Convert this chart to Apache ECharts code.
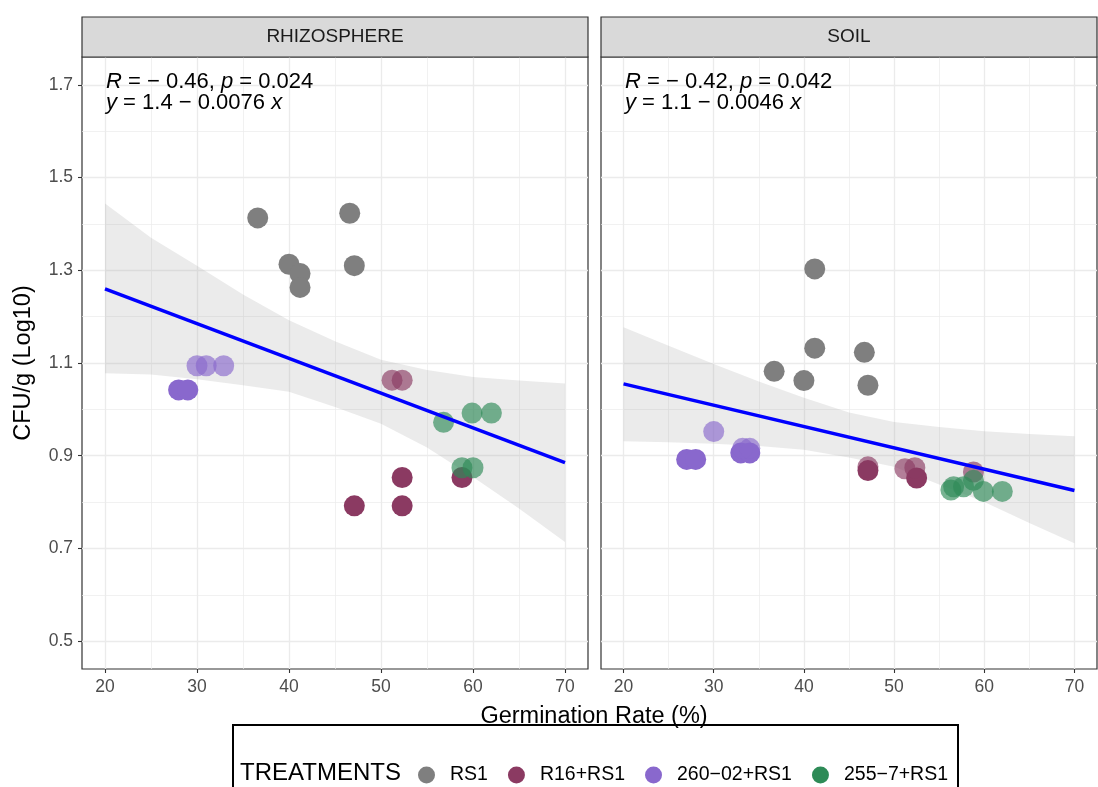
<!DOCTYPE html>
<html><head><meta charset="utf-8">
<script src="https://cdn.jsdelivr.net/npm/echarts@6/dist/echarts.min.js"></script>
<style>html,body{margin:0;padding:0;background:#fff}#c{width:1098px;height:787px}</style>
</head><body><div id="c"></div>
<script>
// ---- data ----
const treatments = ['RS1', 'R16+RS1', '260\u221202+RS1', '255\u22127+RS1'];
const panels = ['RHIZOSPHERE', 'SOIL'];
const xTicks = [20, 30, 40, 50, 60, 70];
const xMinor = [25, 35, 45, 55, 65];
const yTicks = [0.5, 0.7, 0.9, 1.1, 1.3, 1.5, 1.7];
const yMinor = [0.6, 0.8, 1.0, 1.2, 1.4, 1.6];

// RHIZOSPHERE  [germination %, CFU/g log10]
const rhizoRS1 = [[36.6,1.413],[46.6,1.423],[40.0,1.313],[41.2,1.293],[41.2,1.263],[47.1,1.310]];
const rhizoR16 = [[52.3,0.853],[47.1,0.792],[52.3,0.792],[58.8,0.853]];
const rhizoR16Faint = [[51.2,1.063],[52.3,1.063]];
const rhizo260 = [[28.0,1.042],[29.0,1.042]];
const rhizo260Faint = [[30.0,1.094],[31.0,1.094],[32.9,1.094]];
const rhizo255 = [];
const rhizo255Faint = [[56.8,0.972],[59.9,0.992],[62.0,0.992],[58.8,0.874],[60.0,0.874]];

// SOIL
const soilRS1 = [[41.2,1.303],[41.2,1.132],[36.7,1.082],[40.0,1.062],[46.7,1.123],[47.1,1.052]];
const soilR16 = [[47.1,0.868],[52.5,0.852]];
const soilR16Faint = [[47.1,0.876],[51.2,0.872],[52.3,0.874],[58.8,0.865]];
const soil260 = [[27.0,0.892],[28.0,0.892],[33.0,0.906],[34.0,0.906]];
const soil260Faint = [[30.0,0.952],[33.2,0.916],[34.0,0.916]];
const soil255 = [];
const soil255Faint = [[56.3,0.826],[56.6,0.833],[57.7,0.833],[58.8,0.847],[59.9,0.823],[62.0,0.823]];

// linear fits (endpoints) and confidence bands
const fitX = [20, 70];
const rhizoFit = [1.260, 0.885];
const soilFit = [1.055, 0.825];
const bandX = [20, 25, 30, 35, 40, 45, 50, 55, 60, 65, 70];
const rhizoLower = [1.078, 1.075, 1.065, 1.052, 1.038, 1.005, 0.969, 0.918, 0.854, 0.786, 0.714];
const rhizoUpper = [1.444, 1.370, 1.310, 1.248, 1.192, 1.147, 1.107, 1.085, 1.070, 1.062, 1.056];
const soilLower = [0.931, 0.929, 0.926, 0.921, 0.913, 0.896, 0.876, 0.838, 0.800, 0.755, 0.711];
const soilUpper = [1.177, 1.137, 1.098, 1.060, 1.025, 0.993, 0.973, 0.962, 0.953, 0.947, 0.942];

const statText = [
  ['{i|R} = \u2212 0.46, {i|p} = 0.024', '{i|y} = 1.4 \u2212 0.0076 {i|x}'],
  ['{i|R} = \u2212 0.42, {i|p} = 0.042', '{i|y} = 1.1 \u2212 0.0046 {i|x}']
];

// ---- styling / layout ----
const colors = ['#7F7F7F', '#8B3A62', '#8968CD', '#2E8B57'];
const FONT = 'Liberation Sans, Arial, Helvetica, sans-serif';
const panelRects = [{left: 82, width: 506}, {left: 601, width: 496}];
const TOP = 57, BOTTOM_Y = 669;

const chart = echarts.init(document.getElementById('c'), null, {renderer: 'canvas'});

const grids = panelRects.map(p => ({
  left: p.left, width: p.width, top: TOP, height: BOTTOM_Y - TOP,
  show: true, borderColor: '#333333', borderWidth: 1.2, backgroundColor: 'transparent', containLabel: false
}));

const xAxes = [], yAxes = [];
panelRects.forEach((p, gi) => {
  xAxes.push({
    type: 'value', gridIndex: gi, min: 17.5, max: 72.5, position: 'bottom',
    axisLine: {show: false},
    axisTick: {show: true, length: 4, lineStyle: {color: '#333333', width: 1.1}, customValues: xTicks},
    axisLabel: {show: true, customValues: xTicks, color: '#4D4D4D', fontSize: 17.5, fontFamily: FONT, margin: 9},
    splitLine: {show: true, lineStyle: {color: '#EBEBEB', width: 1.3}}
  });
  xAxes.push({
    type: 'value', gridIndex: gi, min: 17.5, max: 72.5, position: 'bottom',
    axisLine: {show: false},
    axisTick: {show: false, customValues: xMinor},
    axisLabel: {show: false, customValues: xMinor},
    splitLine: {show: true, lineStyle: {color: '#EBEBEB', width: 0.7}}
  });
  yAxes.push({
    type: 'value', gridIndex: gi, min: 0.44, max: 1.76, position: 'left',
    axisLine: {show: false},
    axisTick: {show: gi === 0, length: 4, lineStyle: {color: '#333333', width: 1.1}, customValues: yTicks},
    axisLabel: {show: gi === 0, customValues: yTicks, color: '#4D4D4D', fontSize: 17.5, fontFamily: FONT, margin: 9,
      formatter: v => v.toFixed(1)},
    splitLine: {show: true, lineStyle: {color: '#EBEBEB', width: 1.3}},
    name: gi === 0 ? 'CFU/g (Log10)' : '', nameLocation: 'middle', nameGap: 46,
    nameTextStyle: {color: '#000', fontSize: 23.5, fontFamily: FONT}
  });
  yAxes.push({
    type: 'value', gridIndex: gi, min: 0.44, max: 1.76, position: 'left',
    axisLine: {show: false},
    axisTick: {show: false, customValues: yMinor},
    axisLabel: {show: false, customValues: yMinor},
    splitLine: {show: true, lineStyle: {color: '#EBEBEB', width: 0.7}}
  });
});

function bandSeries(gi, lo, hi) {
  return {
    type: 'custom', xAxisIndex: gi * 2, yAxisIndex: gi * 2, silent: true, z: 1, data: [0],
    renderItem: (params, api) => {
      const pts = [];
      for (let i = 0; i < bandX.length; i++) pts.push(api.coord([bandX[i], hi[i]]));
      for (let i = bandX.length - 1; i >= 0; i--) pts.push(api.coord([bandX[i], lo[i]]));
      return {type: 'polygon', shape: {points: pts}, style: {fill: 'rgba(153,153,153,0.2)'}};
    }
  };
}
function scatter(gi, ti, data, faint) {
  return {
    type: 'scatter', name: treatments[ti], xAxisIndex: gi * 2, yAxisIndex: gi * 2,
    data: data, symbol: 'circle', symbolSize: 21, z: 3,
    itemStyle: {color: colors[ti], opacity: faint ? 0.65 : 1},
    emphasis: {disabled: true}
  };
}
function fitLine(gi, ys) {
  return {
    type: 'line', xAxisIndex: gi * 2, yAxisIndex: gi * 2, z: 5, silent: true,
    data: fitX.map((x, i) => [x, ys[i]]), symbol: 'none',
    lineStyle: {color: '#0000FF', width: 3.5}
  };
}

const panelData = [
  [[rhizoRS1, []], [rhizoR16, rhizoR16Faint], [rhizo260, rhizo260Faint], [rhizo255, rhizo255Faint]],
  [[soilRS1, []], [soilR16, soilR16Faint], [soil260, soil260Faint], [soil255, soil255Faint]]
];
const series = [];
series.push(bandSeries(0, rhizoLower, rhizoUpper));
series.push(bandSeries(1, soilLower, soilUpper));
panelData.forEach((pd, gi) => {
  pd.forEach((pair, ti) => {
    series.push(scatter(gi, ti, pair[0], false));
    if (pair[1].length) series.push(scatter(gi, ti, pair[1], true));
  });
});
series.push(fitLine(0, rhizoFit));
series.push(fitLine(1, soilFit));

const graphics = [];
panelRects.forEach((p, gi) => {
  graphics.push({type: 'rect', shape: {x: p.left, y: 17, width: p.width, height: TOP - 17},
    style: {fill: '#D9D9D9', stroke: '#333333', lineWidth: 1.2}, z: 10});
  graphics.push({type: 'text', x: p.left + p.width / 2, y: 37, z: 11,
    style: {text: panels[gi], fill: '#1A1A1A', font: '19px ' + FONT, align: 'center', verticalAlign: 'middle'}});
  statText[gi].forEach((t, li) => {
    graphics.push({type: 'text', x: p.left + 24, y: 82 + li * 21, z: 12,
      style: {text: t, fill: '#000', fontSize: 22, fontFamily: FONT, align: 'left', verticalAlign: 'middle',
        rich: {i: {fontStyle: 'italic', fontSize: 22, fontFamily: FONT}}}});
  });
});
graphics.push({type: 'text', x: 594, y: 717, z: 11,
  style: {text: 'Germination Rate (%)', fill: '#000', font: '23.5px ' + FONT, align: 'center', verticalAlign: 'middle'}});
graphics.push({type: 'rect', shape: {x: 233, y: 725, width: 725, height: 80},
  style: {fill: 'none', stroke: '#000', lineWidth: 2}, z: 10});
graphics.push({type: 'text', x: 240, y: 773, z: 11,
  style: {text: 'TREATMENTS', fill: '#000', font: '24px ' + FONT, align: 'left', verticalAlign: 'middle'}});

chart.setOption({
  animation: false,
  backgroundColor: '#ffffff',
  grid: grids,
  xAxis: xAxes,
  yAxis: yAxes,
  legend: {
    data: treatments.map((t, i) => ({name: t, itemStyle: {color: colors[i], opacity: 1}})),
    left: 413, top: 760, orient: 'horizontal', icon: 'circle',
    itemWidth: 37, itemHeight: 17, itemGap: 20, selectedMode: false,
    textStyle: {fontSize: 19.5, fontFamily: FONT, color: '#000'}
  },
  graphic: graphics,
  series: series
});
</script></body></html>
